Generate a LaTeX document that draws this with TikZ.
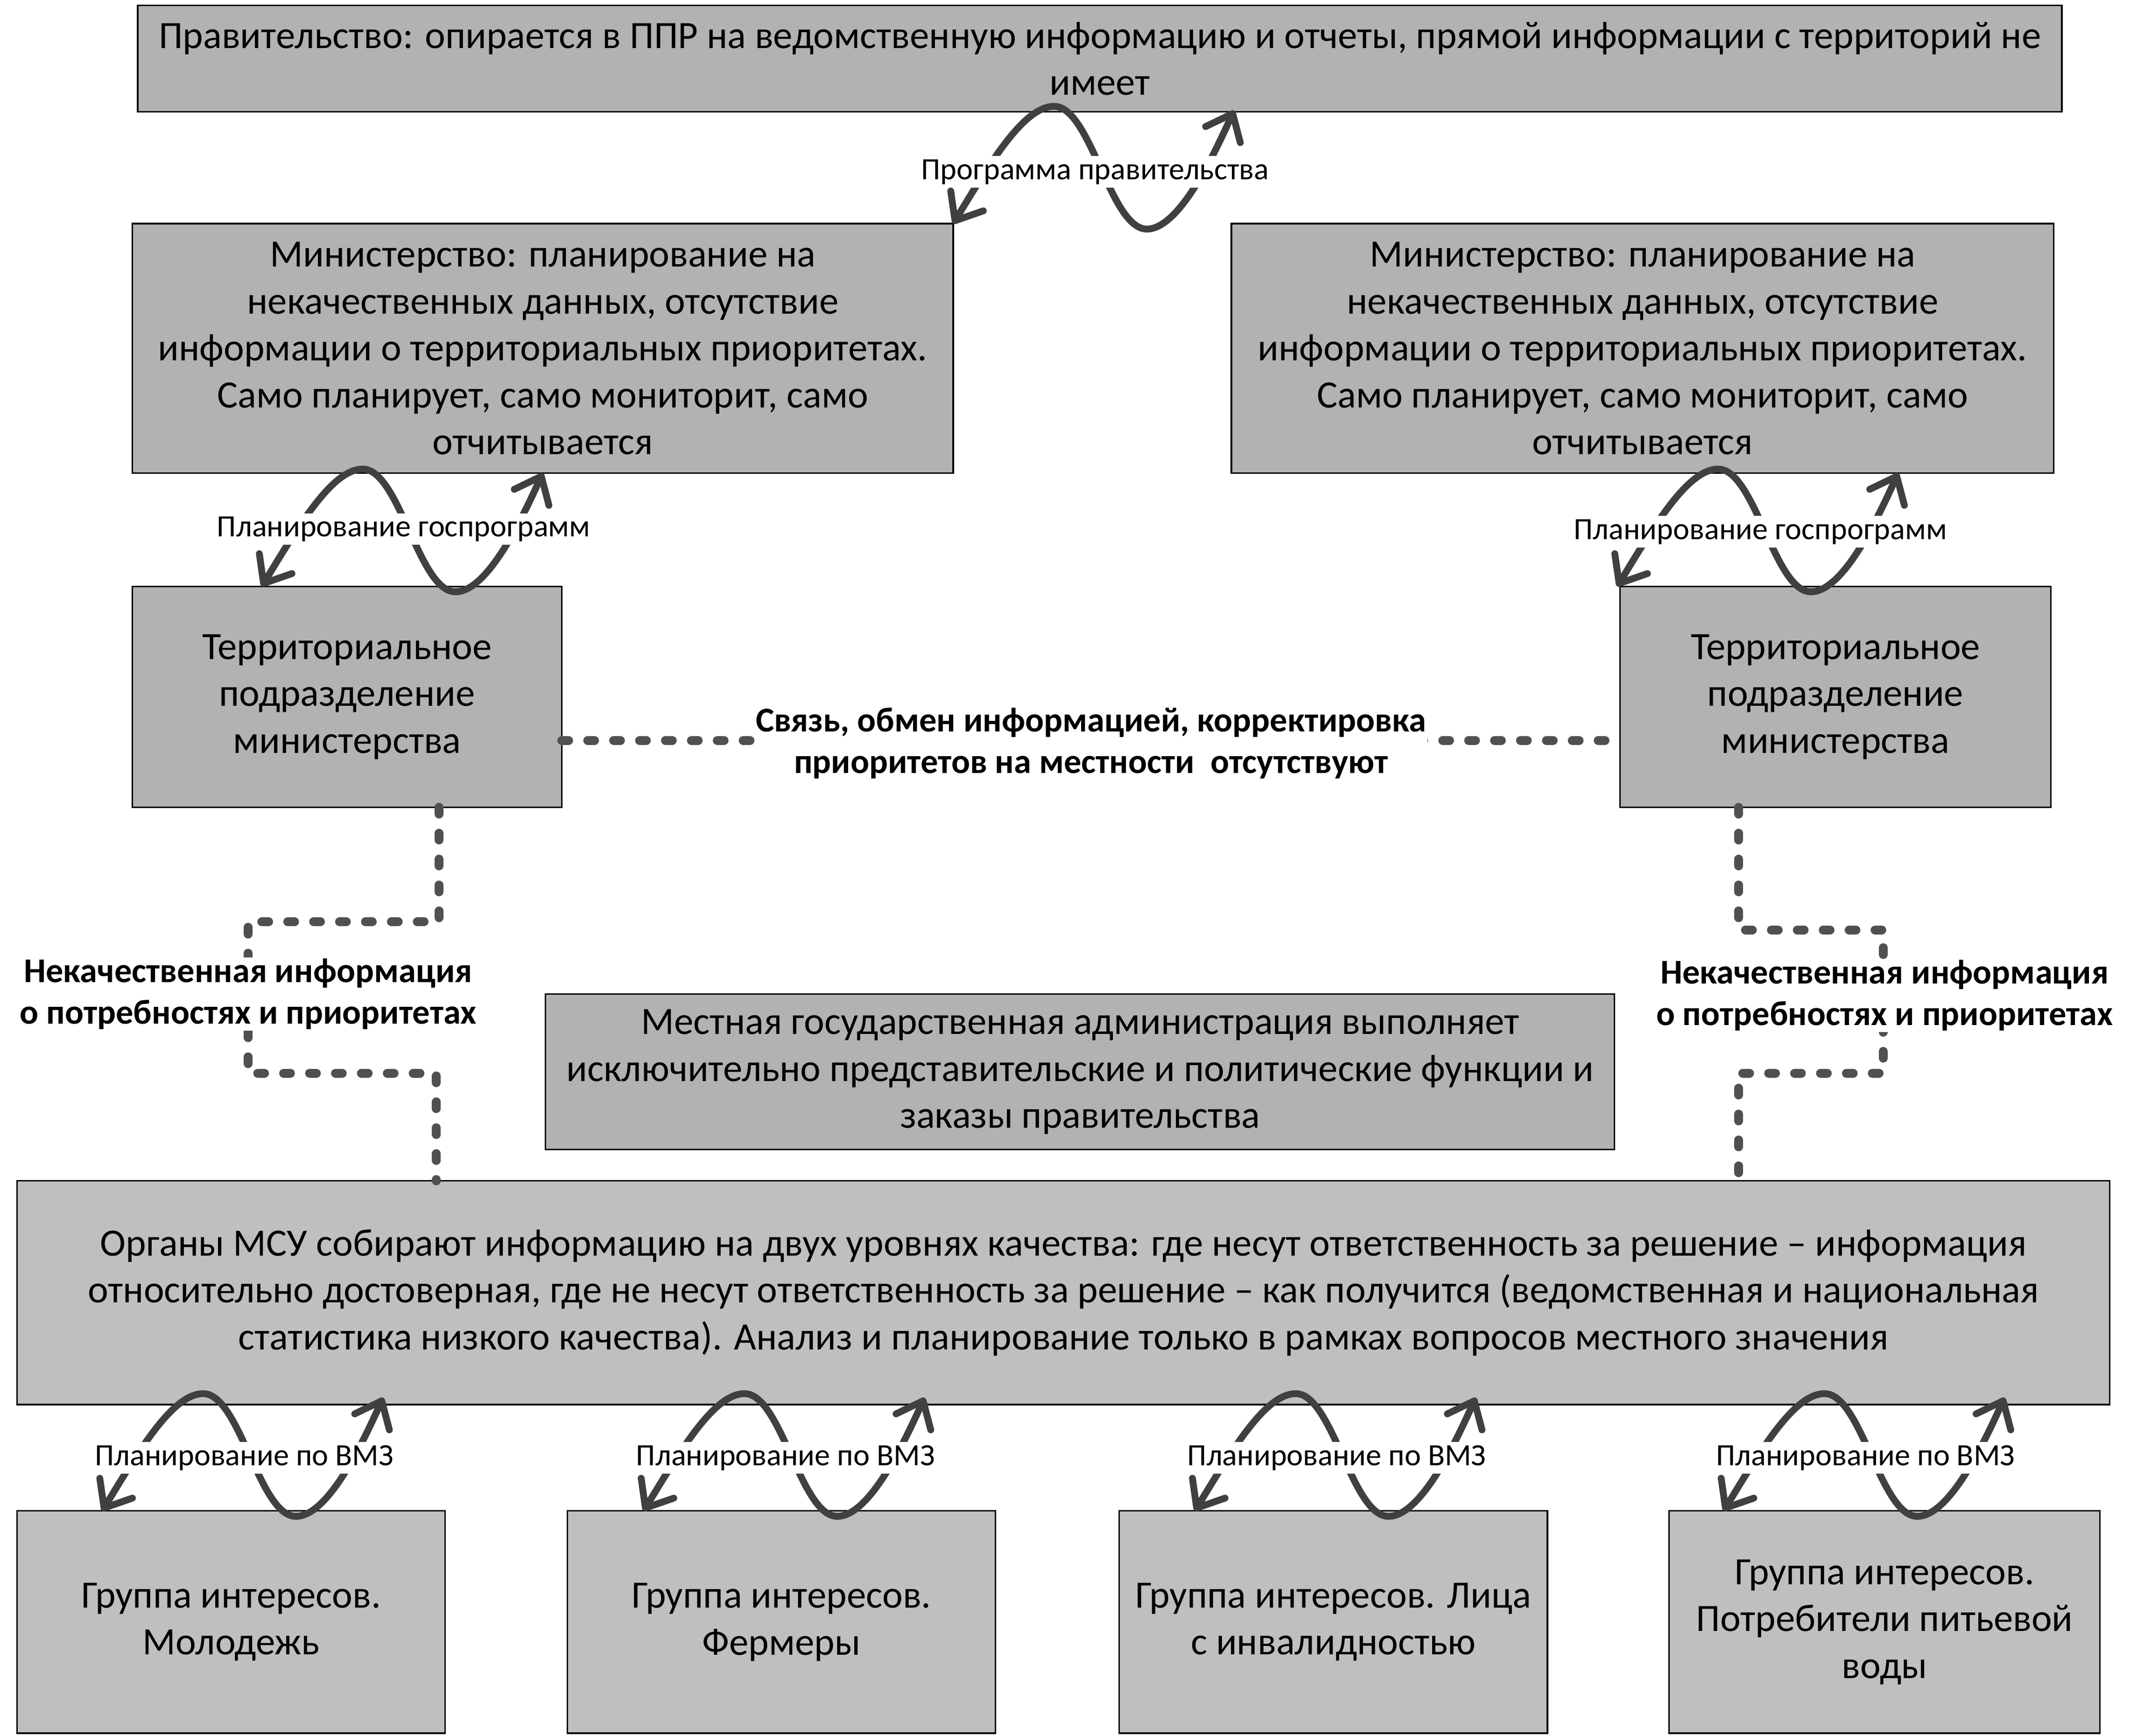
\documentclass[tikz,border=0pt]{standalone}
\usepackage{fontspec}
\setmainfont{Carlito}
\usetikzlibrary{arrows.meta,calc}
\definecolor{boxA}{RGB}{178,178,178}
\definecolor{boxB}{RGB}{191,191,191}
\definecolor{arr}{RGB}{64,64,64}
\definecolor{dsh}{RGB}{80,80,80}
\newcommand\wavearrow[1]{\draw[wv] (#1) .. controls ($(#1)+(28,-46)$) and ($(#1)+(52,-86)$) .. ($(#1)+(74,-86)$) .. controls ($(#1)+(101,-86)$) and ($(#1)+(115,4)$) .. ($(#1)+(142,4)$) .. controls ($(#1)+(167,4)$) and ($(#1)+(194,-57)$) .. ($(#1)+(206,-83)$);}
\begin{document}
\begin{tikzpicture}[x=1pt,y=-1pt,
  box/.style={draw=black, line width=1.1pt, rectangle, inner sep=0pt, outer sep=0pt, align=center, font=\fontsize{28.4}{34.4}\selectfont},
  boxa/.style={box, fill=boxA},
  boxb/.style={box, fill=boxB},
  wv/.style={draw=arr, line width=5pt, line cap=round, {Straight Barb[length=17pt,width=28pt,round]}-{Straight Barb[length=17pt,width=28pt,round]}},
  wlab/.style={fill=white, inner xsep=2pt, inner ysep=2.5pt, font=\fontsize{22.7}{26}\selectfont},
  dashconn/.style={draw=dsh, line width=6.5pt, line cap=round, dash pattern=on 5pt off 14pt},
  blab/.style={fill=white, inner sep=1pt, align=center, font=\bfseries\fontsize{25.5}{30.5}\selectfont},
]
\useasboundingbox (0,0) rectangle (1562,1273);
\fill[white] (0,0) rectangle (1562,1273);

% boxes
\node[boxa, minimum width=1411pt, minimum height=78pt] (gov) at (806.5,43) {Правительство: опирается в ППР на ведомственную информацию и отчеты, прямой информации с территорий не\\имеет};
\node[boxa, minimum width=602pt, minimum height=183pt] (minL) at (398,255.5) {Министерство: планирование на\\некачественных данных, отсутствие\\информации о территориальных приоритетах.\\Само планирует, само мониторит, само\\отчитывается};
\node[boxa, minimum width=603pt, minimum height=183pt] (minR) at (1204.5,255.5) {Министерство: планирование на\\некачественных данных, отсутствие\\информации о территориальных приоритетах.\\Само планирует, само мониторит, само\\отчитывается};
\node[boxa, minimum width=315pt, minimum height=162pt] (terL) at (254.5,511) {Территориальное\\подразделение\\министерства};
\node[boxa, minimum width=316pt, minimum height=162pt] (terR) at (1346,511) {Территориальное\\подразделение\\министерства};
\node[boxa, minimum width=784pt, minimum height=114pt] (adm) at (792,786) {Местная государственная администрация выполняет\\исключительно представительские и политические функции и\\заказы правительства};
\node[boxb, minimum width=1534.5pt, minimum height=164pt] (msu) at (779.75,948) {Органы МСУ собирают информацию на двух уровнях качества: где несут ответственность за решение – информация\\относительно достоверная, где не несут ответственность за решение – как получится (ведомственная и национальная\\статистика низкого качества). Анализ и планирование только в рамках вопросов местного значения};
\node[boxb, minimum width=314pt, minimum height=163pt] (g1) at (169.5,1189.5) {Группа интересов.\\Молодежь};
\node[boxb, minimum width=314pt, minimum height=163pt] (g2) at (573,1189.5) {Группа интересов.\\Фермеры};
\node[boxb, minimum width=314pt, minimum height=163pt] (g3) at (977.75,1189.5) {Группа интересов. Лица\\с инвалидностью};
\node[boxb, minimum width=316pt, minimum height=163pt] (g4) at (1382,1189.5) {Группа интересов.\\Потребители питьевой\\воды};

% wave connectors
\coordinate (wg) at (minL.north east);
\coordinate (wl) at ($(terL.north west)+(95,0)$);
\coordinate (wr) at ($(terR.north west)+(-2,0)$);
\coordinate (w1) at ($(g1.north west)+(62.5,0)$);
\coordinate (w2) at ($(g2.north west)+(56,0)$);
\coordinate (w3) at ($(g3.north west)+(55.5,0)$);
\coordinate (w4) at ($(g4.north west)+(40,0)$);
\wavearrow{wg}
\wavearrow{wl}
\wavearrow{wr}
\wavearrow{w1}
\wavearrow{w2}
\wavearrow{w3}
\wavearrow{w4}

% dashed connectors
\coordinate (dL1) at ($(terL.south west)+(225,0)$);
\coordinate (dL2) at ($(msu.north west)+(307.5,0)$);
\coordinate (dR1) at ($(terR.south west)+(87,0)$);
\coordinate (dR2) at ($(msu.north west)+(1262.5,0)$);
\draw[dashconn] (dL1) -- ++(0,84) -- ++(-140,0) -- ++(0,111) -- ++(138,0) -- (dL2);
\draw[dashconn] (dR1) -- ++(0,90) -- ++(106,0) -- ++(0,105) -- ++(-106,0) -- (dR2);
\draw[dashconn] ($(terL.south east)+(0,-49)$) -- ($(terR.south west)+(0,-49)$);

% labels
\node[wlab] (lg) at ($(wg)+(104,-38)$) {Программа правительства};
\node[wlab] (ll) at ($(wl)+(104,-42)$) {Планирование госпрограмм};
\node[wlab] (lr) at ($(wr)+(105,-40)$) {Планирование госпрограмм};
\node[wlab] (l1) at ($(w1)+(104,-39)$) {Планирование по ВМЗ};
\node[wlab] (l2) at ($(w2)+(104,-39)$) {Планирование по ВМЗ};
\node[wlab] (l3) at ($(w3)+(104,-39)$) {Планирование по ВМЗ};
\node[wlab] (l4) at ($(w4)+(104,-39)$) {Планирование по ВМЗ};
\node[blab] (lc) at (800,545) {Связь, обмен информацией, корректировка\\приоритетов на местности\ \ отсутствуют};
\node[blab] (lnL) at (182,729) {Некачественная информация\\о потребностях и приоритетах};
\node[blab] (lnR) at (1382,730) {Некачественная информация\\о потребностях и приоритетах};
\end{tikzpicture}
\end{document}
